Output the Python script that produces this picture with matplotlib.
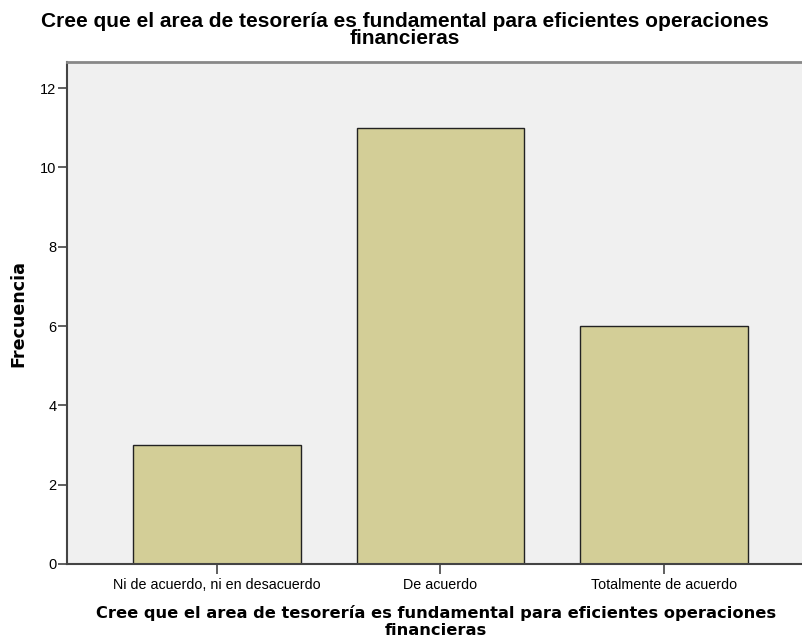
import matplotlib
matplotlib.use("Agg")
import matplotlib.pyplot as plt

# Datos de la tabla de frecuencias
categorias = ["Ni de acuerdo, ni en desacuerdo", "De acuerdo", "Totalmente de acuerdo"]
frecuencias = [3, 11, 6]
titulo = "Cree que el area de tesorería es fundamental para eficientes operaciones\nfinancieras"

fig = plt.figure(figsize=(8.02, 6.42), dpi=100)
ax = fig.add_axes([0.0835, 0.1215, 0.9315, 0.7819])
ax.set_facecolor("#f0f0f0")

x = list(range(len(categorias)))
ax.bar(x, frecuencias, width=0.75, color="#d3ce97", edgecolor="#222222", linewidth=1.0, zorder=2)

ax.set_xlim(-0.671, 2.671)
ax.set_ylim(0, 12.66)
ax.set_yticks([0, 2, 4, 6, 8, 10, 12])
ax.set_xticks(x)
ax.set_xticklabels(categorias, fontfamily="Liberation Sans", fontsize=10.3)
for lab in ax.get_yticklabels():
    lab.set_fontfamily("Liberation Sans")
    lab.set_fontsize(10.5)

ax.tick_params(axis="y", length=6.5, width=1.2, color="#444444", pad=1)
ax.tick_params(axis="x", length=7, width=1.2, color="#444444", pad=3)

for s in ["left", "bottom"]:
    ax.spines[s].set_color("#444444")
    ax.spines[s].set_linewidth(1.5)
ax.spines["top"].set_color("#888888")
ax.spines["top"].set_linewidth(2)
ax.spines["right"].set_visible(False)

ax.set_ylabel("Frecuencia", fontsize=12.6, fontweight="bold")
ax.yaxis.set_label_coords(-0.0535, 0.5)
# etiqueta del eje x (texto de la figura, dos lineas)
fig.text(0.5436, 1 - 605 / 642, titulo, ha="center", va="top", fontsize=11.7,
         fontweight="bold", linespacing=1.15)
# titulo
fig.text(0.505, 1 - 12 / 642, titulo, ha="center", va="top", fontsize=15,
         fontweight="bold", family="Liberation Sans", linespacing=0.85)

fig.savefig("out.png", dpi=100)
